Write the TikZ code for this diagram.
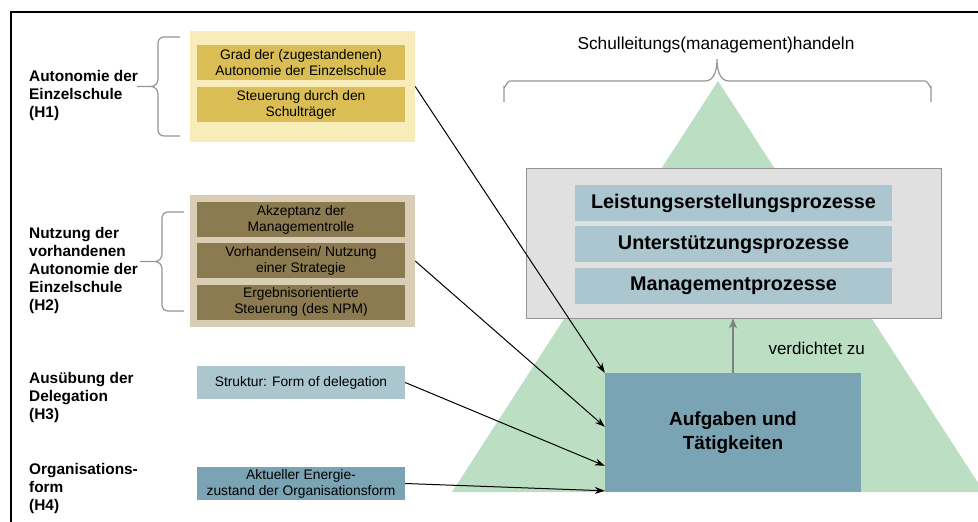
\documentclass[tikz,border=0pt]{standalone}
\usepackage{fontspec}
\setmainfont{Liberation Sans}
\usetikzlibrary{arrows.meta, positioning, calc}

\definecolor{hbgyellow}{HTML}{F8EDBA}
\definecolor{hyellow}{HTML}{DABE55}
\definecolor{hbgtan}{HTML}{D9CDB6}
\definecolor{holive}{HTML}{8C7B50}
\definecolor{hlightblue}{HTML}{ACC6D0}
\definecolor{hblue}{HTML}{7AA3B4}
\definecolor{pyrgreen}{HTML}{BCDFC3}
\definecolor{procgray}{HTML}{E0E0E0}
\definecolor{bracegray}{HTML}{959595}

\begin{document}
\begin{tikzpicture}[
    x=1pt, y=-1pt,
    hyp/.style={anchor=west, align=left, inner sep=0pt, font=\fontsize{15.4}{18}\selectfont\bfseries},
    panel/.style={rectangle, minimum width=225pt, inner sep=0pt},
    item/.style={rectangle, minimum width=208pt, minimum height=35pt, inner sep=0pt, align=center, font=\fontsize{13.8}{16}\selectfont},
    proc/.style={rectangle, fill=hlightblue, minimum width=317pt, minimum height=36pt, inner sep=0pt, font=\fontsize{19.8}{22}\selectfont\bfseries},
    bracket/.style={draw=bracegray, line width=1.2pt},
    arrow/.style={line width=1pt, -{Stealth[length=10pt, width=7pt]}}
]
    \useasboundingbox (0,0) rectangle (978,522);
    \draw[line width=2pt] (11,522) -- (11,12) -- (978,12);

    % pyramid
    \begin{scope}
        \clip (0,0) rectangle (978,522);
        \fill[pyrgreen] (718,81) -- (452,492) -- (984,492) -- cycle;
    \end{scope}

    % hypotheses
    \node (h1) [hyp] at (29,95.5) {Autonomie der\\Einzelschule\\(H1)};
    \node (h2) [hyp] at (29,271) {Nutzung der\\vorhandenen\\Autonomie der\\Einzelschule\\(H2)};
    \node (h3) [hyp] at (29,397.5) {Ausübung der\\Delegation\\(H3)};
    \node (h4) [hyp] at (29,489) {Organisations-\\form\\(H4)};

    % braces
    \draw[bracket] (180,37) -- (164,37) to[out=180,in=90] (158,43) -- (158,79) to[out=-90,in=0] (151,86.5) -- (137,86.5)
        (151,86.5) to[out=0,in=90] (158,94) -- (158,130) to[out=-90,in=180] (164,136) -- (180,136);
    \draw[bracket] (184,212) -- (168,212) to[out=180,in=90] (162,218) -- (162,254) to[out=-90,in=0] (155,261.5) -- (140,261.5)
        (155,261.5) to[out=0,in=90] (162,269) -- (162,305) to[out=-90,in=180] (168,311) -- (184,311);

    \node (p1) [panel, fill=hbgyellow, minimum height=111pt] at (302.5,86.5) {};
    \node (grad) [item, fill=hyellow] at (301,62.5) {Grad der (zugestandenen)\\Autonomie der Einzelschule};
    \node (traeger) [item, fill=hyellow, below=7pt of grad] {Steuerung durch den\\Schulträger};

    \node (p2) [panel, fill=hbgtan, minimum height=132pt] at (302.5,261) {};
    \node (akzeptanz) [item, fill=holive] at (301,219.5) {Akzeptanz der\\Managementrolle};
    \node (strategie) [item, fill=holive, below=6pt of akzeptanz] {Vorhandensein/ Nutzung\\einer Strategie};
    \node (npm) [item, fill=holive, below=6pt of strategie] {Ergebnisorientierte\\Steuerung (des NPM)};

    \node (delegation) [item, fill=hlightblue, minimum height=33pt] at (301,382.5) {Struktur: Form of delegation};
    \node (energie) [item, fill=hblue, minimum height=33pt] at (301,483.5) {Aktueller Energie-\\zustand der Organisationsform};

    % right side
    \node (handeln) [font=\fontsize{17.3}{20}\selectfont] at (716,45) {Schulleitungs(management)handeln};
    \draw[bracket] (504,102) -- (504,87) to[out=-90,in=180] (510,81) -- (705,81) to[out=0,in=-90] (717,59)
        to[out=-90,in=180] (729,81) -- (925,81) to[out=0,in=-90] (931,87) -- (931,102);

    \node (prozesse) [rectangle, draw=gray!85, line width=1pt, fill=procgray, minimum width=415pt, minimum height=150pt] at (733.5,243) {};
    \node (leistung) [proc] at (733.5,203) {Leistungserstellungsprozesse};
    \node (unterst) [proc, below=5pt of leistung] {Unterstützungsprozesse};
    \node (mgmt) [proc, below=5pt of unterst] {Managementprozesse};

    \node (aufgaben) [rectangle, fill=hblue, minimum width=256pt, minimum height=119pt, align=center, font=\fontsize{19}{24}\selectfont\bfseries] at (733,432.5) {Aufgaben und\\Tätigkeiten};

    \draw[line width=1.1pt, gray, -{Stealth[length=10pt, width=8pt]}] (aufgaben.north) -- (aufgaben.north |- prozesse.south);
    \node (verdichtet) [anchor=west, font=\fontsize{17}{20}\selectfont] at (765,348) {verdichtet zu};

    \draw[arrow] (p1.east) -- (aufgaben.north west);
    \draw[arrow] (p2.east) -- ($(aufgaben.north west)+(0,54)$);
    \draw[arrow] (delegation.east) -- ($(aufgaben.north west)+(0,93)$);
    \draw[arrow] (energie.east) -- ($(aufgaben.north west)+(0,118)$);
\end{tikzpicture}
\end{document}
